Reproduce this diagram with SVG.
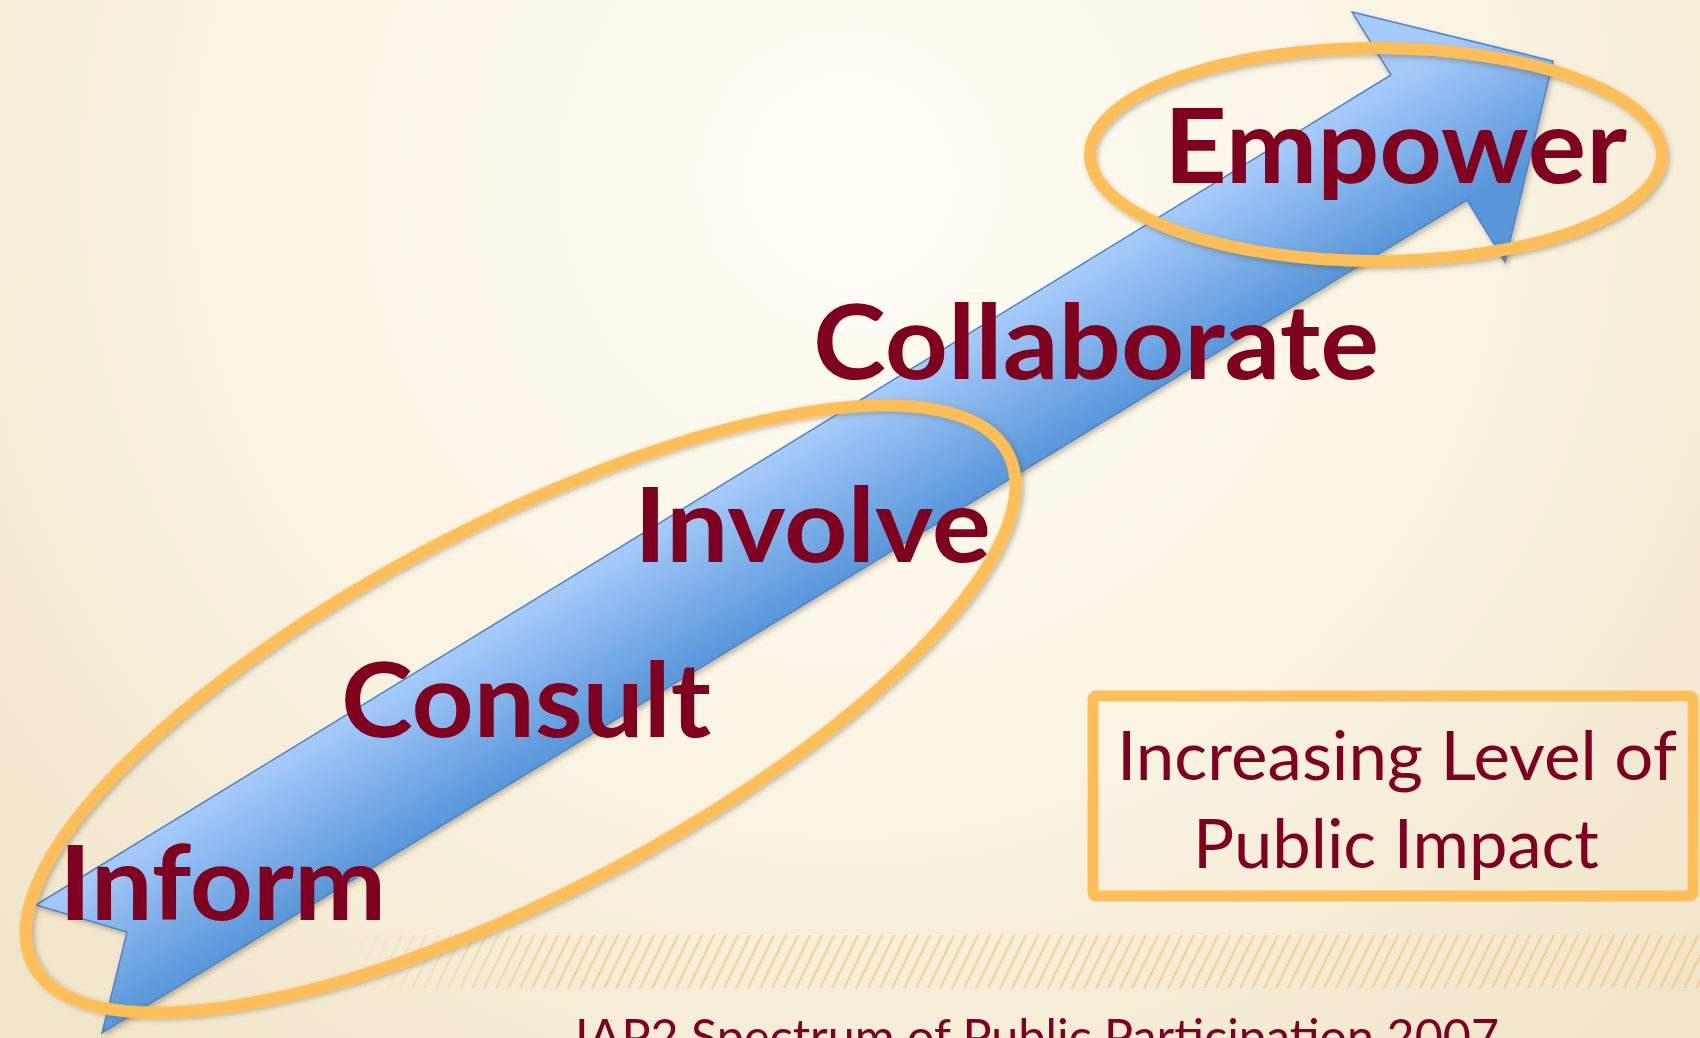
<svg xmlns="http://www.w3.org/2000/svg" width="1700" height="1038" viewBox="0 0 1700 1038">
  <defs>
    <radialGradient id="bg" cx="850" cy="180" r="1150" gradientUnits="userSpaceOnUse">
      <stop offset="0" stop-color="#fffdf6"/>
      <stop offset="0.55" stop-color="#f9f3e1"/>
      <stop offset="1" stop-color="#f1e5c9"/>
    </radialGradient>
    <linearGradient id="arrowGrad" x1="36" y1="905" x2="111" y2="1028" gradientUnits="userSpaceOnUse">
      <stop offset="0" stop-color="#a6cbfa"/>
      <stop offset="1" stop-color="#5896d9"/>
    </linearGradient>
    <pattern id="hatch" width="12" height="60" patternUnits="userSpaceOnUse" patternTransform="skewX(-26)">
      <rect x="5" y="0" width="2.2" height="60" fill="#f7c46e"/>
    </pattern>
    <linearGradient id="fadeGrad" x1="345" y1="0" x2="560" y2="0" gradientUnits="userSpaceOnUse">
      <stop offset="0" stop-color="#000"/>
      <stop offset="1" stop-color="#fff"/>
    </linearGradient>
    <mask id="fadeMask" maskUnits="userSpaceOnUse" x="0" y="900" width="1700" height="120">
      <rect x="0" y="900" width="1700" height="120" fill="url(#fadeGrad)"/>
    </mask>
    <filter id="shadow" x="-10%" y="-10%" width="120%" height="130%">
      <feDropShadow dx="2" dy="3" stdDeviation="2.5" flood-color="#5a4a2a" flood-opacity="0.35"/>
    </filter>
    <style>
      .word { font-family: Lato, "Liberation Sans", sans-serif; font-weight: 700; font-size: 104px; fill: #800020; }
      .note { font-family: Lato, "Liberation Sans", sans-serif; font-weight: 400; fill: #800020; }
      .ring { fill: none; stroke: #ffbf58; stroke-width: 12; }
    </style>
  </defs>

  <rect id="background" x="0" y="0" width="1700" height="1038" fill="url(#bg)"/>

  <g id="hatch-band" mask="url(#fadeMask)">
    <rect x="340" y="935" width="1360" height="53" fill="url(#hatch)" opacity="0.75"/>
  </g>

  <g id="connectors">
    <polygon id="arrow" filter="url(#shadow)" fill="url(#arrowGrad)" stroke="#4f86c8" stroke-width="1.5" stroke-linejoin="miter"
      points="36,905 1391,75 1352,12 1553,61 1505,262 1467,200 102,1033 127,932"/>
  </g>

  <g id="ring-empower">
    <ellipse class="ring" filter="url(#shadow)" cx="1376" cy="154.5" rx="286" ry="106.5"/>
  </g>
  <g id="ring-lower">
    <ellipse class="ring" filter="url(#shadow)" cx="520.5" cy="709" rx="550.5" ry="184.5" transform="rotate(-27.7 520.5 709)"/>
  </g>

  <g id="node-empower">
    <text class="word" x="1164" y="183" textLength="463" lengthAdjust="spacingAndGlyphs">Empower</text>
  </g>
  <g id="node-collaborate">
    <text class="word" x="813" y="379" textLength="566" lengthAdjust="spacingAndGlyphs">Collaborate</text>
  </g>
  <g id="node-involve">
    <text class="word" x="634" y="562" textLength="357" lengthAdjust="spacingAndGlyphs">Involve</text>
  </g>
  <g id="node-consult">
    <text class="word" x="341" y="737" textLength="370" lengthAdjust="spacingAndGlyphs">Consult</text>
  </g>
  <g id="node-inform">
    <text class="word" x="59" y="920" textLength="327" lengthAdjust="spacingAndGlyphs">Inform</text>
  </g>

  <g id="impact-box">
    <rect x="1093" y="696" width="600" height="200" rx="3" fill="none" stroke="#ffbf58" stroke-width="11"/>
    <text class="note" x="1397" y="780" font-size="67" text-anchor="middle" textLength="560" lengthAdjust="spacingAndGlyphs">Increasing Level of</text>
    <text class="note" x="1396" y="868" font-size="67" text-anchor="middle" textLength="406" lengthAdjust="spacingAndGlyphs">Public Impact</text>
  </g>

  <g id="caption">
    <text class="note" x="575" y="1054" font-size="48" textLength="924" lengthAdjust="spacingAndGlyphs">IAP2 Spectrum of Public Participation 2007</text>
  </g>
</svg>
